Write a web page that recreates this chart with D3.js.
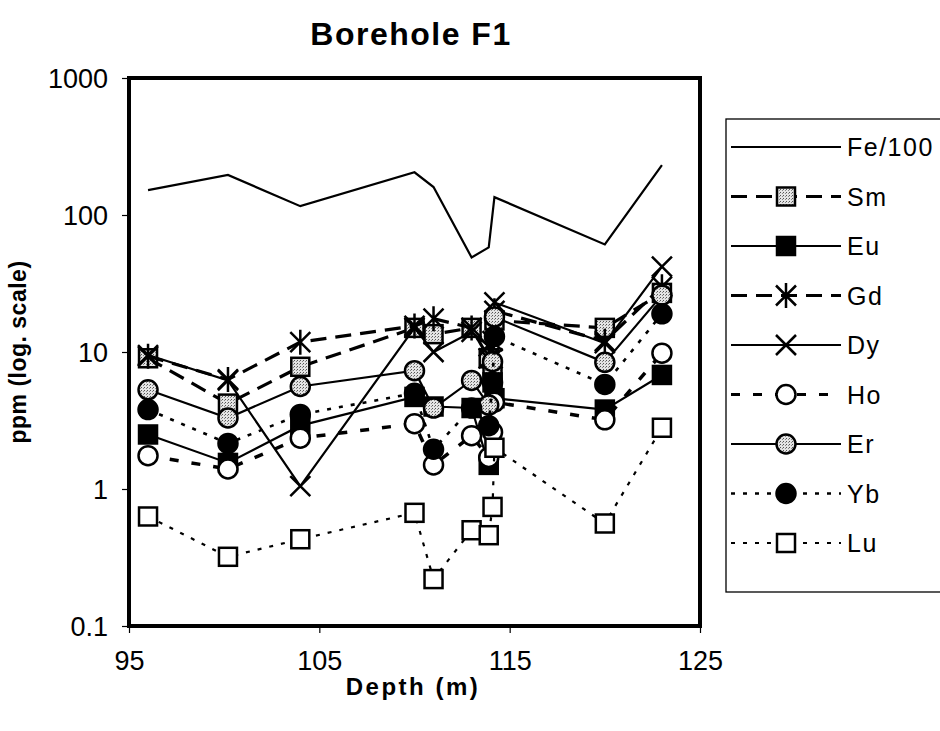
<!DOCTYPE html>
<html><head><meta charset="utf-8">
<script src="https://cdn.jsdelivr.net/npm/d3@7"></script>
<style>body{margin:0;background:#fff}svg{display:block}text{font-family:"Liberation Sans",Arial,sans-serif;fill:#000}</style>
</head><body>
<svg id="c" width="940" height="731"></svg>
<script>
// ---- data ----
const depths = [96, 100.2, 104, 110, 111, 113, 113.9, 114.1, 114.2, 120, 123];
const fe100 = [152, 196, 116, 205, 160, 49, 58, null, 135, 61, 231];
const sm    = [9.0, 4.2, 7.8, 15, 13.5, 15, 9, 7, 17, 15, 27];
const eu    = [2.5, 1.55, 2.9, 4.7, 4.0, 3.9, 1.5, 6, 4.6, 3.8, 6.8];
const gd    = [9.3, 6.3, 11.8, 15.5, 17.5, 15, 9, 12, 20, 12, 30];
const dy    = [9.5, 6.2, 1.05, 15, 10, 14, 11, 9, 23, 11.6, 42];
const ho    = [1.75, 1.4, 2.35, 3.0, 1.5, 2.45, 1.7, 2.6, 4.3, 3.2, 9.8];
const er    = [5.3, 3.3, 5.6, 7.3, 3.9, 6.2, 4.1, 8.5, 18, 8.4, 26];
const yb    = [3.8, 2.15, 3.5, 5.0, 1.95, 3.9, 2.9, 6, 13, 5.8, 19];
const lu    = [0.63, 0.32, 0.43, 0.67, 0.22, 0.50, 0.46, 0.74, 2.0, 0.56, 2.8];
const seriesNames = ["Fe/100","Sm","Eu","Gd","Dy","Ho","Er","Yb","Lu"];
const xTicks = [95, 105, 115, 125];
const yTicks = [0.1, 1, 10, 100, 1000];
const yTickLabels = ["0.1", "1", "10", "100", "1000"];

const seriesValues = [fe100, sm, eu, gd, dy, ho, er, yb, lu];
const styles = {
  "Fe/100": {dash: null, w: 2.2, marker: null},
  "Sm": {dash: "16,9", w: 3.2, marker: "square", fill: "url(#hatch)"},
  "Eu": {dash: null, w: 2.2, marker: "square", fill: "#000"},
  "Gd": {dash: "16,9", w: 3.2, marker: "asterisk"},
  "Dy": {dash: null, w: 2.2, marker: "x"},
  "Ho": {dash: "9,13", w: 3.5, marker: "circle", fill: "#fff"},
  "Er": {dash: null, w: 2.2, marker: "circle", fill: "url(#hatch)"},
  "Yb": {dash: "4,8", w: 2.6, marker: "circle", fill: "#000"},
  "Lu": {dash: "4,8", w: 2.2, marker: "square", fill: "#fff"}
};

const svg = d3.select("#c");
const defs = svg.append("defs");
const pat = defs.append("pattern").attr("id","hatch").attr("patternUnits","userSpaceOnUse").attr("width",3).attr("height",3);
pat.append("rect").attr("width",3).attr("height",3).attr("fill","#e4e4e4");
pat.append("rect").attr("x",0).attr("y",0).attr("width",1).attr("height",1).attr("fill","#555");
pat.append("rect").attr("x",2).attr("y",1).attr("width",1).attr("height",1).attr("fill","#888");

const L = 129, R = 700, T = 78, B = 626;
const x = d3.scaleLinear().domain([95,125]).range([L,R]);
const y = d3.scaleLog().domain([0.1,1000]).range([B,T]);

// title
svg.append("text").attr("x",411).attr("y",45).attr("text-anchor","middle")
  .attr("font-size",32).attr("font-weight","bold").attr("letter-spacing",1.5).text("Borehole F1");
// axis titles
svg.append("text").attr("transform","translate(26,352) rotate(-90)").attr("text-anchor","middle")
  .attr("font-size",23).attr("font-weight","bold").attr("letter-spacing",0.5).text("ppm (log. scale)");
svg.append("text").attr("x",413).attr("y",695).attr("text-anchor","middle")
  .attr("font-size",24).attr("font-weight","bold").attr("letter-spacing",2.5).text("Depth (m)");

// axes
const yAxis = d3.axisLeft(y).tickValues(yTicks).tickFormat((d,i)=>yTickLabels[i]).tickSize(7).tickPadding(14);
const gy = svg.append("g").attr("transform",`translate(${L},0)`).call(yAxis);
const xAxis = d3.axisBottom(x).tickValues(xTicks).tickFormat(d3.format("d")).tickSize(7).tickPadding(18);
const gx = svg.append("g").attr("transform",`translate(0,${B})`).call(xAxis);
[gx, gy].forEach(g => {
  g.select(".domain").remove();
  g.selectAll(".tick line").attr("stroke","#000").attr("stroke-width",1.2);
  g.selectAll(".tick text").attr("font-size",27).attr("font-family","Liberation Sans, Arial, sans-serif").attr("fill","#000");
});
gy.selectAll(".tick text").attr("dy","0.35em");

// plot content
const plot = svg.append("g");

function drawMarker(g, type, cx, cy, fill){
  if (!type) return;
  if (type === "square") {
    g.append("rect").attr("x",cx-9).attr("y",cy-9).attr("width",18).attr("height",18)
      .attr("fill",fill).attr("stroke","#000").attr("stroke-width",2.5);
  } else if (type === "circle") {
    g.append("circle").attr("cx",cx).attr("cy",cy).attr("r",9.5)
      .attr("fill",fill).attr("stroke","#000").attr("stroke-width",2.5);
  } else if (type === "x") {
    const s = 10;
    g.append("path").attr("d",`M${cx-s},${cy-s}L${cx+s},${cy+s}M${cx-s},${cy+s}L${cx+s},${cy-s}`)
      .attr("stroke","#000").attr("stroke-width",2.5).attr("fill","none");
  } else if (type === "asterisk") {
    const s = 10;
    g.append("path").attr("d",`M${cx-s},${cy-s}L${cx+s},${cy+s}M${cx-s},${cy+s}L${cx+s},${cy-s}M${cx},${cy-s*1.25}L${cx},${cy+s*1.25}`)
      .attr("stroke","#000").attr("stroke-width",2.5).attr("fill","none");
  }
}

const line = d3.line().x(d=>x(d[0])).y(d=>y(d[1]));
seriesNames.forEach((name, si) => {
  const st = styles[name];
  const pts = depths.map((d,i)=>[d, seriesValues[si][i]]).filter(p=>p[1]!=null);
  const g = plot.append("g");
  g.append("path").attr("d", line(pts)).attr("fill","none").attr("stroke","#000")
    .attr("stroke-width", st.w).attr("stroke-dasharray", st.dash).attr("stroke-linejoin","miter");
  pts.forEach(p => drawMarker(g, st.marker, x(p[0]), y(p[1]), st.fill));
});

// frame
svg.append("rect").attr("x",L).attr("y",T).attr("width",R-L).attr("height",B-T)
  .attr("fill","none").attr("stroke","#000").attr("stroke-width",4);

// legend
const lg = svg.append("g");
lg.append("rect").attr("x",726).attr("y",119).attr("width",230).attr("height",473)
  .attr("fill","#fff").attr("stroke","#000").attr("stroke-width",1.3);
seriesNames.forEach((name, i) => {
  const st = styles[name];
  const yy = 147 + i*49.5;
  lg.append("line").attr("x1",731).attr("x2",841).attr("y1",yy).attr("y2",yy)
    .attr("stroke","#000").attr("stroke-width", Math.min(st.w, 3)).attr("stroke-dasharray", st.dash);
  drawMarker(lg, st.marker, 786, yy, st.fill);
  lg.append("text").attr("x",847).attr("y",yy).attr("dy","0.36em").attr("font-size",25)
    .attr("letter-spacing",1.5).text(name);
});
</script>
</body></html>
